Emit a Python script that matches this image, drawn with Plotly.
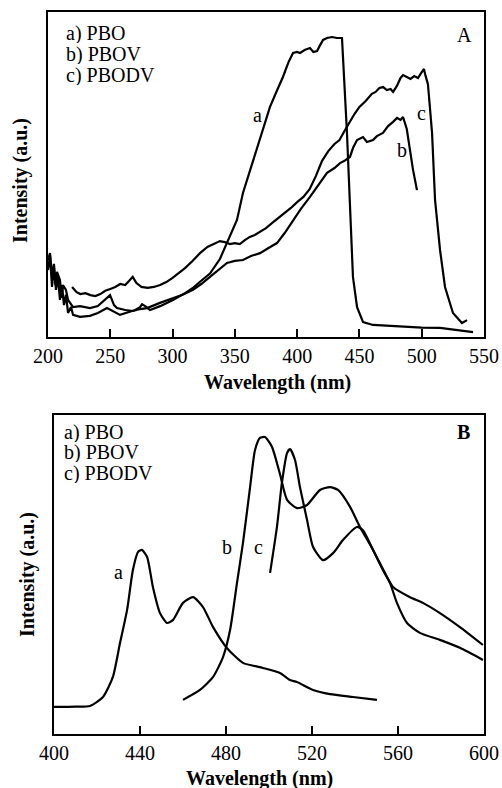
import plotly.graph_objects as go

# ---------------- Panel A (absorption) ----------------
a_pbo_x = [200, 201.6, 203.2, 204.8, 206.4, 208, 209.6, 211.2, 212.8, 214.4, 216.1, 218.5, 220.1, 225.7,
           233.7, 240, 247.4, 252, 257.8, 265, 270, 273.9, 275.5, 278, 281.9, 290, 300.3, 310, 316, 322,
           330, 338, 344, 351.7, 356.5, 362, 370.2, 378.2, 384, 388.6, 393, 396.7, 400, 402.3, 406, 410.3,
           413, 416, 418, 420.8, 424, 428, 432, 436, 440, 442.4, 444.8, 448.1, 452.9, 460.9, 475, 488.2,
           500, 514.7, 528, 541.2]
a_pbo_y = [20.6, 25.2, 15.4, 21.2, 14.5, 18.5, 11.4, 16.0, 9.8, 13.0, 7.4, 9.2, 6.8, 6.2,
           6.5, 7.4, 8.9, 8.0, 6.8, 7.7, 8.3, 9.2, 10.1, 9.5, 8.3, 9.5, 11.4, 13.5, 15.0, 17.0,
           19.5, 24.0, 29.2, 36.0, 44.3, 51.0, 60.6, 70.8, 76.0, 80.0, 84.5, 87.4, 87.7, 87.4, 88.3, 88.9,
           87.7, 88.0, 89.5, 91.4, 92.0, 92.3, 92.0, 92.0, 62.8, 42.2, 18.5, 9.2, 4.6, 3.7, 3.4, 3.1,
           2.9, 2.8, 2.2, 1.5]

a_pbov_x = [200, 201.6, 203.2, 204.8, 206, 207.2, 209.6, 211, 212, 214.4, 216.1, 220.1, 225.7, 233.7,
            240, 245.8, 249.8, 253, 255.4, 262, 268.2, 274, 279.5, 289.9, 300.3, 308, 316.4, 323, 330,
            337, 343.7, 350, 356.5, 363, 370.2, 377, 383.8, 390, 396.7, 403, 410.3, 417, 424, 430,
            434.4, 438, 442.4, 445, 448.1, 452.9, 456, 460.9, 464, 468.9, 473, 477, 480.2, 483, 485,
            488, 490.6, 493, 496.2]
a_pbov_y = [23.7, 25.8, 19.0, 22.5, 16.0, 20.0, 17.5, 12.0, 16.0, 14.5, 11.4, 9.2, 9.5, 8.9,
            9.5, 11.4, 12.9, 9.8, 8.9, 8.3, 8.0, 8.6, 8.9, 10.5, 12.0, 13.0, 14.5, 16.3, 18.5,
            20.6, 22.8, 23.4, 23.7, 24.9, 25.8, 27.4, 28.9, 32.0, 36.0, 39.4, 43.1, 46.8, 50.5, 52.0,
            53.5, 54.2, 55.4, 58.3, 60.6, 61.5, 60.0, 60.6, 61.8, 62.8, 64.9, 66.2, 67.4, 66.8, 67.7,
            64.0, 57.5, 51.5, 45.2]

a_pbodv_x = [219.3, 223, 226, 230, 234, 238, 242, 246, 250, 254, 258, 262, 265, 268, 271, 275, 280,
             285, 290, 295, 300, 305, 310, 316, 322, 328, 334, 338, 342, 346, 350, 354, 358, 362, 366,
             370, 375, 380, 385, 390, 395, 400, 405, 410, 415, 420, 425, 430, 434, 438, 442, 446, 450,
             455, 460, 463, 466, 469, 472, 475, 477, 480, 483, 485, 488, 491, 494, 497, 499, 501.8,
             503, 505, 508.3, 510.7, 514.7, 518.7, 525.1, 532.3, 536.4]
a_pbodv_y = [15.4, 13.8, 13.2, 13.5, 12.9, 12.6, 13.2, 14.2, 14.8, 15.4, 16.3, 16.0, 17.2, 18.5, 16.6,
             15.4, 15.1, 15.4, 16.0, 16.9, 18.2, 19.7, 21.2, 23.4, 25.8, 27.7, 28.9, 29.5, 29.2, 28.6,
             28.9, 28.6, 29.8, 30.8, 31.4, 32.3, 33.5, 35.1, 36.6, 38.2, 39.7, 41.5, 43.1, 45.5, 49.5,
             54.2, 57.2, 59.4, 60.6, 63.4, 66.2, 68.6, 70.8, 72.6, 74.8, 75.4, 76.6, 76.9, 76.0, 76.3,
             75.4, 77.2, 79.7, 80.6, 80.0, 79.4, 80.3, 79.7, 80.9, 82.5, 80.5, 77.8, 62.8, 42.2, 26.8,
             15.4, 7.4, 4.3, 5.2]

# ---------------- Panel B (emission) ----------------
b_pbo_x = [400, 410, 416.7, 422.8, 427.4, 430.7, 434, 436.7, 439.1, 440.9, 443.3, 446, 449.3, 452.6,
           455.3, 460, 464.7, 469.3, 474, 480.5, 487.9, 497.2, 505.1, 509.8, 513, 520.5, 528.4, 539.1, 550.2]
b_pbo_y = [8.5, 8.6, 8.8, 11.6, 17.9, 28.5, 38.9, 51.4, 57.1, 57.7, 55.5, 46.1, 37.9, 34.8,
           35.7, 41.1, 42.9, 39.8, 33.5, 26.9, 22.3, 20.7, 19.1, 16.9, 16.3, 13.8, 12.5, 11.6, 10.7]

b_pbov_x = [460, 467.9, 474, 478.6, 481.9, 485.1, 487.9, 491.2, 493.5, 495.8, 498.1, 501.4, 505.1,
            508.4, 513, 517.7, 523.7, 528.4, 532.1, 537.7, 542.3, 548.4, 554.9, 557.7, 565.6, 571.6,
            579.5, 588.8, 599.5]
b_pbov_y = [10.7, 13.8, 17.9, 24.1, 32.6, 47.3, 59.9, 77.4, 89.0, 92.8, 93.1, 90.0, 81.5,
            73.4, 70.8, 71.8, 76.5, 77.4, 76.5, 71.2, 64.9, 57.7, 49.2, 46.1, 42.9, 41.1,
            37.9, 33.5, 27.9]

b_pbodv_x = [500.5, 503.7, 506, 508.4, 509.8, 512.1, 514.4, 517.7, 520.5, 525.1, 529.8, 534.4, 540.9,
             543.7, 548.4, 553, 556.3, 559.5, 564.2, 570.2, 579.5, 588.8, 599.5]
b_pbodv_y = [50.5, 64.9, 78.7, 88.1, 89.3, 85.9, 77.4, 67.1, 58.6, 54.5, 56.7, 60.8, 64.9,
             63.9, 57.7, 51.4, 47.3, 41.1, 34.8, 31.7, 29.5, 27.0, 23.2]

legend_lines = ["a) PBO", "b) PBOV", "c) PBODV"]
curve_letters = ["a", "b", "c"]
a_ticks = [200, 250, 300, 350, 400, 450, 500, 550]
b_ticks = [400, 440, 480, 520, 560, 600]

FONT = "Liberation Serif, Times New Roman, serif"
W, H = 502, 788

fig = go.Figure()
for xs, ys in [(a_pbo_x, a_pbo_y), (a_pbov_x, a_pbov_y), (a_pbodv_x, a_pbodv_y)]:
    fig.add_trace(go.Scatter(x=xs, y=ys, mode="lines", line=dict(color="black", width=2.2),
                             xaxis="x", yaxis="y", showlegend=False, hoverinfo="skip"))
for xs, ys in [(b_pbo_x, b_pbo_y), (b_pbov_x, b_pbov_y), (b_pbodv_x, b_pbodv_y)]:
    fig.add_trace(go.Scatter(x=xs, y=ys, mode="lines",
                             line=dict(color="black", width=2.2, shape="spline", smoothing=0.6),
                             xaxis="x2", yaxis="y2", showlegend=False, hoverinfo="skip"))

def px_x(p):
    return p / W

def px_y(p):
    return 1 - p / H

axis_common = dict(showline=True, linecolor="black", linewidth=2, mirror=True, showgrid=False,
                   zeroline=False, automargin=False)
tickf = dict(family=FONT, size=20, color="black")
xA = dict(domain=[px_x(48), px_x(484)], range=[200, 550], tickvals=a_ticks, ticks="inside",
          ticklen=8, tickwidth=1.5, tickcolor="black", tickfont=tickf, anchor="y", **axis_common)
yA = dict(domain=[px_y(337), px_y(12)], range=[0, 100], showticklabels=False, ticks="",
          anchor="x", **axis_common)
xB = dict(domain=[px_x(54), px_x(484)], range=[400, 600], tickvals=b_ticks, ticks="inside",
          ticklen=8, tickwidth=1.5, tickcolor="black", tickfont=tickf, anchor="y2", **axis_common)
yB = dict(domain=[px_y(734), px_y(415)], range=[0, 100], showticklabels=False, ticks="",
          anchor="x2", **axis_common)

ann = []
tf = dict(family=FONT, size=20, color="black")
lf = dict(family=FONT, size=20, color="black")
# axis titles
for cx, cy in [(277, 382), (259, 778)]:
    ann.append(dict(text="<b>Wavelength (nm)</b>", x=px_x(cx), y=px_y(cy), xref="paper", yref="paper",
                    showarrow=False, font=tf, xanchor="center", yanchor="middle"))
for cx, cy in [(21, 181), (27, 575)]:
    ann.append(dict(text="<b>Intensity (a.u.)</b>", x=px_x(cx), y=px_y(cy), xref="paper", yref="paper",
                    showarrow=False, font=tf, textangle=-90, xanchor="center", yanchor="middle"))
# legend text lines
for x0, ys in [(65, [33, 54, 75]), (63, [432, 452, 473])]:
    for t, yy in zip(legend_lines, ys):
        ann.append(dict(text=t, x=px_x(x0), y=px_y(yy), xref="paper", yref="paper", showarrow=False,
                        font=lf, xanchor="left", yanchor="middle", height=20, valign="middle",
                        borderpad=0))
# panel letters
ann.append(dict(text="A", x=px_x(464), y=px_y(35), xref="paper", yref="paper", showarrow=False,
                font=tf, xanchor="center", yanchor="middle"))
ann.append(dict(text="<b>B</b>", x=px_x(463), y=px_y(432), xref="paper", yref="paper", showarrow=False,
                font=tf, xanchor="center", yanchor="middle"))
# curve letters
for t, xx, yy in zip(curve_letters, [367.8, 484.2, 500.2], [68.3, 57.5, 68.9]):
    ann.append(dict(text=t, x=xx, y=yy, xref="x", yref="y", showarrow=False, font=tf))
for t, xx, yy in zip(curve_letters, [429.8, 480.5, 494.9], [50.8, 58.6, 58.6]):
    ann.append(dict(text=t, x=xx, y=yy, xref="x2", yref="y2", showarrow=False, font=tf))

fig.update_layout(width=W, height=H, margin=dict(l=0, r=0, t=0, b=0, autoexpand=False),
                  paper_bgcolor="white", plot_bgcolor="white",
                  xaxis=xA, yaxis=yA, xaxis2=xB, yaxis2=yB, annotations=ann,
                  font=dict(family=FONT, color="black"))
fig.write_html("out.html", config={"responsive": False, "displayModeBar": False},
               post_script="document.body.style.margin='0px';document.body.style.overflow='hidden';")
